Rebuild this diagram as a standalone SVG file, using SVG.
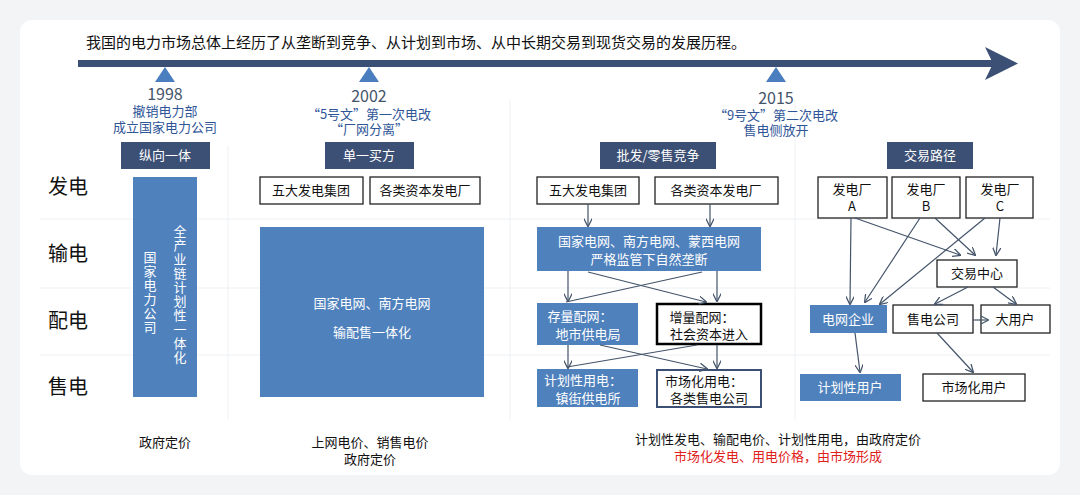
<svg xmlns="http://www.w3.org/2000/svg" width="1080" height="495" viewBox="0 0 1080 495">
<defs>
<marker id="ah" viewBox="0 0 10 10" refX="9" refY="5" markerWidth="7" markerHeight="7" orient="auto"><path d="M0,0 L10,5 L0,10" fill="none" stroke="#44546a" stroke-width="1.5"/></marker>
<style>
text{font-family:"Noto Sans CJK SC","Liberation Sans",sans-serif;}
.hd{fill:#3c4f75}
.hdt{fill:#fff;font-size:13px;text-anchor:middle}
.wb{fill:#fff;stroke:#222;stroke-width:1.3}
.bb{fill:#4f81bd}
.t{font-size:13px;fill:#111;text-anchor:middle}
.red{fill:#e0201a}
.tw{font-size:13px;fill:#fff;text-anchor:middle}
.yr{font-size:16px;fill:#44546a;text-anchor:middle}
.yt{font-size:13px;fill:#2f5597;text-anchor:middle}
.row{font-size:20px;fill:#111}
.c{stroke:#44546a;stroke-width:1.2;fill:none;marker-end:url(#ah)}
.cn{stroke:#44546a;stroke-width:1.2;fill:none}
.g{stroke:#eef0f3;stroke-width:1}
</style>
</defs>
<rect width="1080" height="495" fill="#f3f4f6"/>
<rect x="20" y="20" width="1040" height="455" rx="12" fill="#fff"/>
<g id="grid">
<line class="g" x1="228" y1="145" x2="228" y2="420"/>
<line class="g" x1="510" y1="100" x2="510" y2="420"/>
<line class="g" x1="795" y1="100" x2="795" y2="420"/>
<line class="g" x1="40" y1="219" x2="1050" y2="219"/>
<line class="g" x1="40" y1="288" x2="1050" y2="288"/>
<line class="g" x1="40" y1="355" x2="1050" y2="355"/>
</g>
<text x="86" y="48" font-size="15" fill="#111">我国的电力市场总体上经历了从垄断到竞争、从计划到市场、从中长期交易到现货交易的发展历程。</text>
<g id="timeline">
<rect x="78" y="60" width="915" height="7" fill="#3c4f75"/>
<polygon points="985,47 1018,63.5 985,80 993,63.5" fill="#3c4f75"/>
<polygon points="165,67 175,82 155,82" fill="#4a7ebf"/>
<polygon points="369,67 379,82 359,82" fill="#4a7ebf"/>
<polygon points="776,67 786,82 766,82" fill="#4a7ebf"/>
<text class="yr" x="165" y="100">1998</text>
<text class="yt" x="165" y="116">撤销电力部</text>
<text class="yt" x="165" y="132">成立国家电力公司</text>
<text class="yr" x="369" y="102">2002</text>
<text class="yt" x="369" y="119">“5号文”第一次电改</text>
<text class="yt" x="369" y="134">“厂网分离”</text>
<text class="yr" x="776" y="104">2015</text>
<text class="yt" x="776" y="120">“9号文”第二次电改</text>
<text class="yt" x="776" y="135">售电侧放开</text>
</g>
<g id="rows">
<text class="row" x="48" y="194">发电</text>
<text class="row" x="48" y="261">输电</text>
<text class="row" x="48" y="328">配电</text>
<text class="row" x="48" y="394">售电</text>
</g>
<g id="col1">
<rect class="hd" x="121" y="142" width="89" height="27"/><text class="hdt" x="165" y="160">纵向一体</text>
<rect class="bb" x="133" y="177" width="64" height="220"/>
<text class="tw" x="150" y="293" writing-mode="tb" letter-spacing="1">国家电力公司</text>
<text class="tw" x="180" y="295" writing-mode="tb" letter-spacing="1">全产业链计划性一体化</text>
<text class="t" x="165" y="447">政府定价</text>
</g>
<g id="col2">
<rect class="hd" x="325" y="142" width="89" height="27"/><text class="hdt" x="369" y="160">单一买方</text>
<rect class="wb" x="260" y="177" width="103" height="27"/><text class="t" x="311" y="195">五大发电集团</text>
<rect class="wb" x="370" y="177" width="110" height="27"/><text class="t" x="425" y="195">各类资本发电厂</text>
<rect class="bb" x="260" y="227" width="224" height="170"/>
<text class="tw" x="372" y="308">国家电网、南方电网</text>
<text class="tw" x="372" y="337">输配售一体化</text>
<text class="t" x="370" y="447">上网电价、销售电价</text>
<text class="t" x="370" y="464">政府定价</text>
</g>
<g id="col3">
<rect class="hd" x="600" y="142" width="116" height="27"/><text class="hdt" x="658" y="160">批发/零售竞争</text>
<rect class="wb" x="537" y="177" width="102" height="27"/><text class="t" x="588" y="195">五大发电集团</text>
<rect class="wb" x="655" y="177" width="123" height="27"/><text class="t" x="716" y="195">各类资本发电厂</text>
<rect class="bb" x="537" y="227" width="224" height="44"/>
<text class="tw" x="649" y="246">国家电网、南方电网、蒙西电网</text>
<text class="tw" x="649" y="264">严格监管下自然垄断</text>
<rect class="bb" x="537" y="303" width="101" height="42"/>
<text class="tw" x="580" y="321">存量配网：</text><text class="tw" x="588" y="339">地市供电局</text>
<rect x="657" y="304" width="104" height="40" fill="#fff" stroke="#000" stroke-width="2.5"/>
<text class="t" x="702" y="322">增量配网：</text><text class="t" x="709" y="339">社会资本进入</text>
<rect class="bb" x="537" y="369" width="101" height="38"/>
<text class="tw" x="583" y="385">计划性用电：</text><text class="tw" x="588" y="403">镇街供电所</text>
<rect x="657" y="370" width="104" height="37" fill="#fff" stroke="#3c4f75" stroke-width="2"/>
<text class="t" x="704" y="386">市场化用电：</text><text class="t" x="709" y="403">各类售电公司</text>
<text class="t" x="778" y="444">计划性发电、输配电价、计划性用电，由政府定价</text>
<text class="t red" x="778" y="461">市场化发电、用电价格，由市场形成</text>
</g>
<g id="col4">
<rect class="hd" x="887" y="142" width="86" height="27"/><text class="hdt" x="930" y="160">交易路径</text>
<rect class="wb" x="818" y="177" width="69" height="41"/><text class="t" x="852" y="194">发电厂</text><text class="t" x="852" y="211">A</text>
<rect class="wb" x="892" y="177" width="68" height="41"/><text class="t" x="926" y="194">发电厂</text><text class="t" x="926" y="211">B</text>
<rect class="wb" x="966" y="177" width="67" height="41"/><text class="t" x="1000" y="194">发电厂</text><text class="t" x="1000" y="211">C</text>
<rect class="wb" x="937" y="260" width="80" height="27"/><text class="t" x="977" y="278">交易中心</text>
<rect class="bb" x="810" y="305" width="77" height="28"/><text class="tw" x="848" y="324">电网企业</text>
<rect class="wb" x="893" y="305" width="80" height="28"/><text class="t" x="933" y="324">售电公司</text>
<rect class="wb" x="981" y="305" width="69" height="28"/><text class="t" x="1015" y="324">大用户</text>
<rect class="bb" x="800" y="374" width="101" height="27"/><text class="tw" x="850" y="392">计划性用户</text>
<rect class="wb" x="923" y="374" width="102" height="27"/><text class="t" x="974" y="392">市场化用户</text>
</g>
<g id="connectors">
<line class="c" x1="588" y1="204" x2="588" y2="226"/>
<line class="c" x1="710" y1="204" x2="710" y2="226"/>
<line class="c" x1="568" y1="271" x2="568" y2="301"/>
<line class="c" x1="717" y1="271" x2="717" y2="301"/>
<line class="c" x1="588" y1="272" x2="706" y2="302"/>
<line class="cn" x1="702" y1="272" x2="566" y2="302"/>
<line class="c" x1="568" y1="345" x2="568" y2="368"/>
<line class="c" x1="717" y1="345" x2="717" y2="368"/>
<line class="c" x1="600" y1="345" x2="707" y2="369"/>
<line class="cn" x1="697" y1="345" x2="567" y2="367"/>
<line class="c" x1="851" y1="218" x2="850" y2="304"/>
<line class="c" x1="855" y1="218" x2="960" y2="255"/>
<line class="c" x1="920" y1="218" x2="865" y2="302"/>
<line class="c" x1="935" y1="218" x2="975" y2="255"/>
<line class="c" x1="985" y1="218" x2="880" y2="304"/>
<line class="c" x1="1000" y1="218" x2="996" y2="255"/>
<line class="c" x1="968" y1="287" x2="935" y2="304"/>
<line class="c" x1="993" y1="287" x2="1016" y2="304"/>
<line class="c" x1="973" y1="320" x2="988" y2="320"/>
<line class="c" x1="937" y1="333" x2="973" y2="372"/>
<line class="c" x1="855" y1="333" x2="860" y2="372"/>
</g>
</svg>
